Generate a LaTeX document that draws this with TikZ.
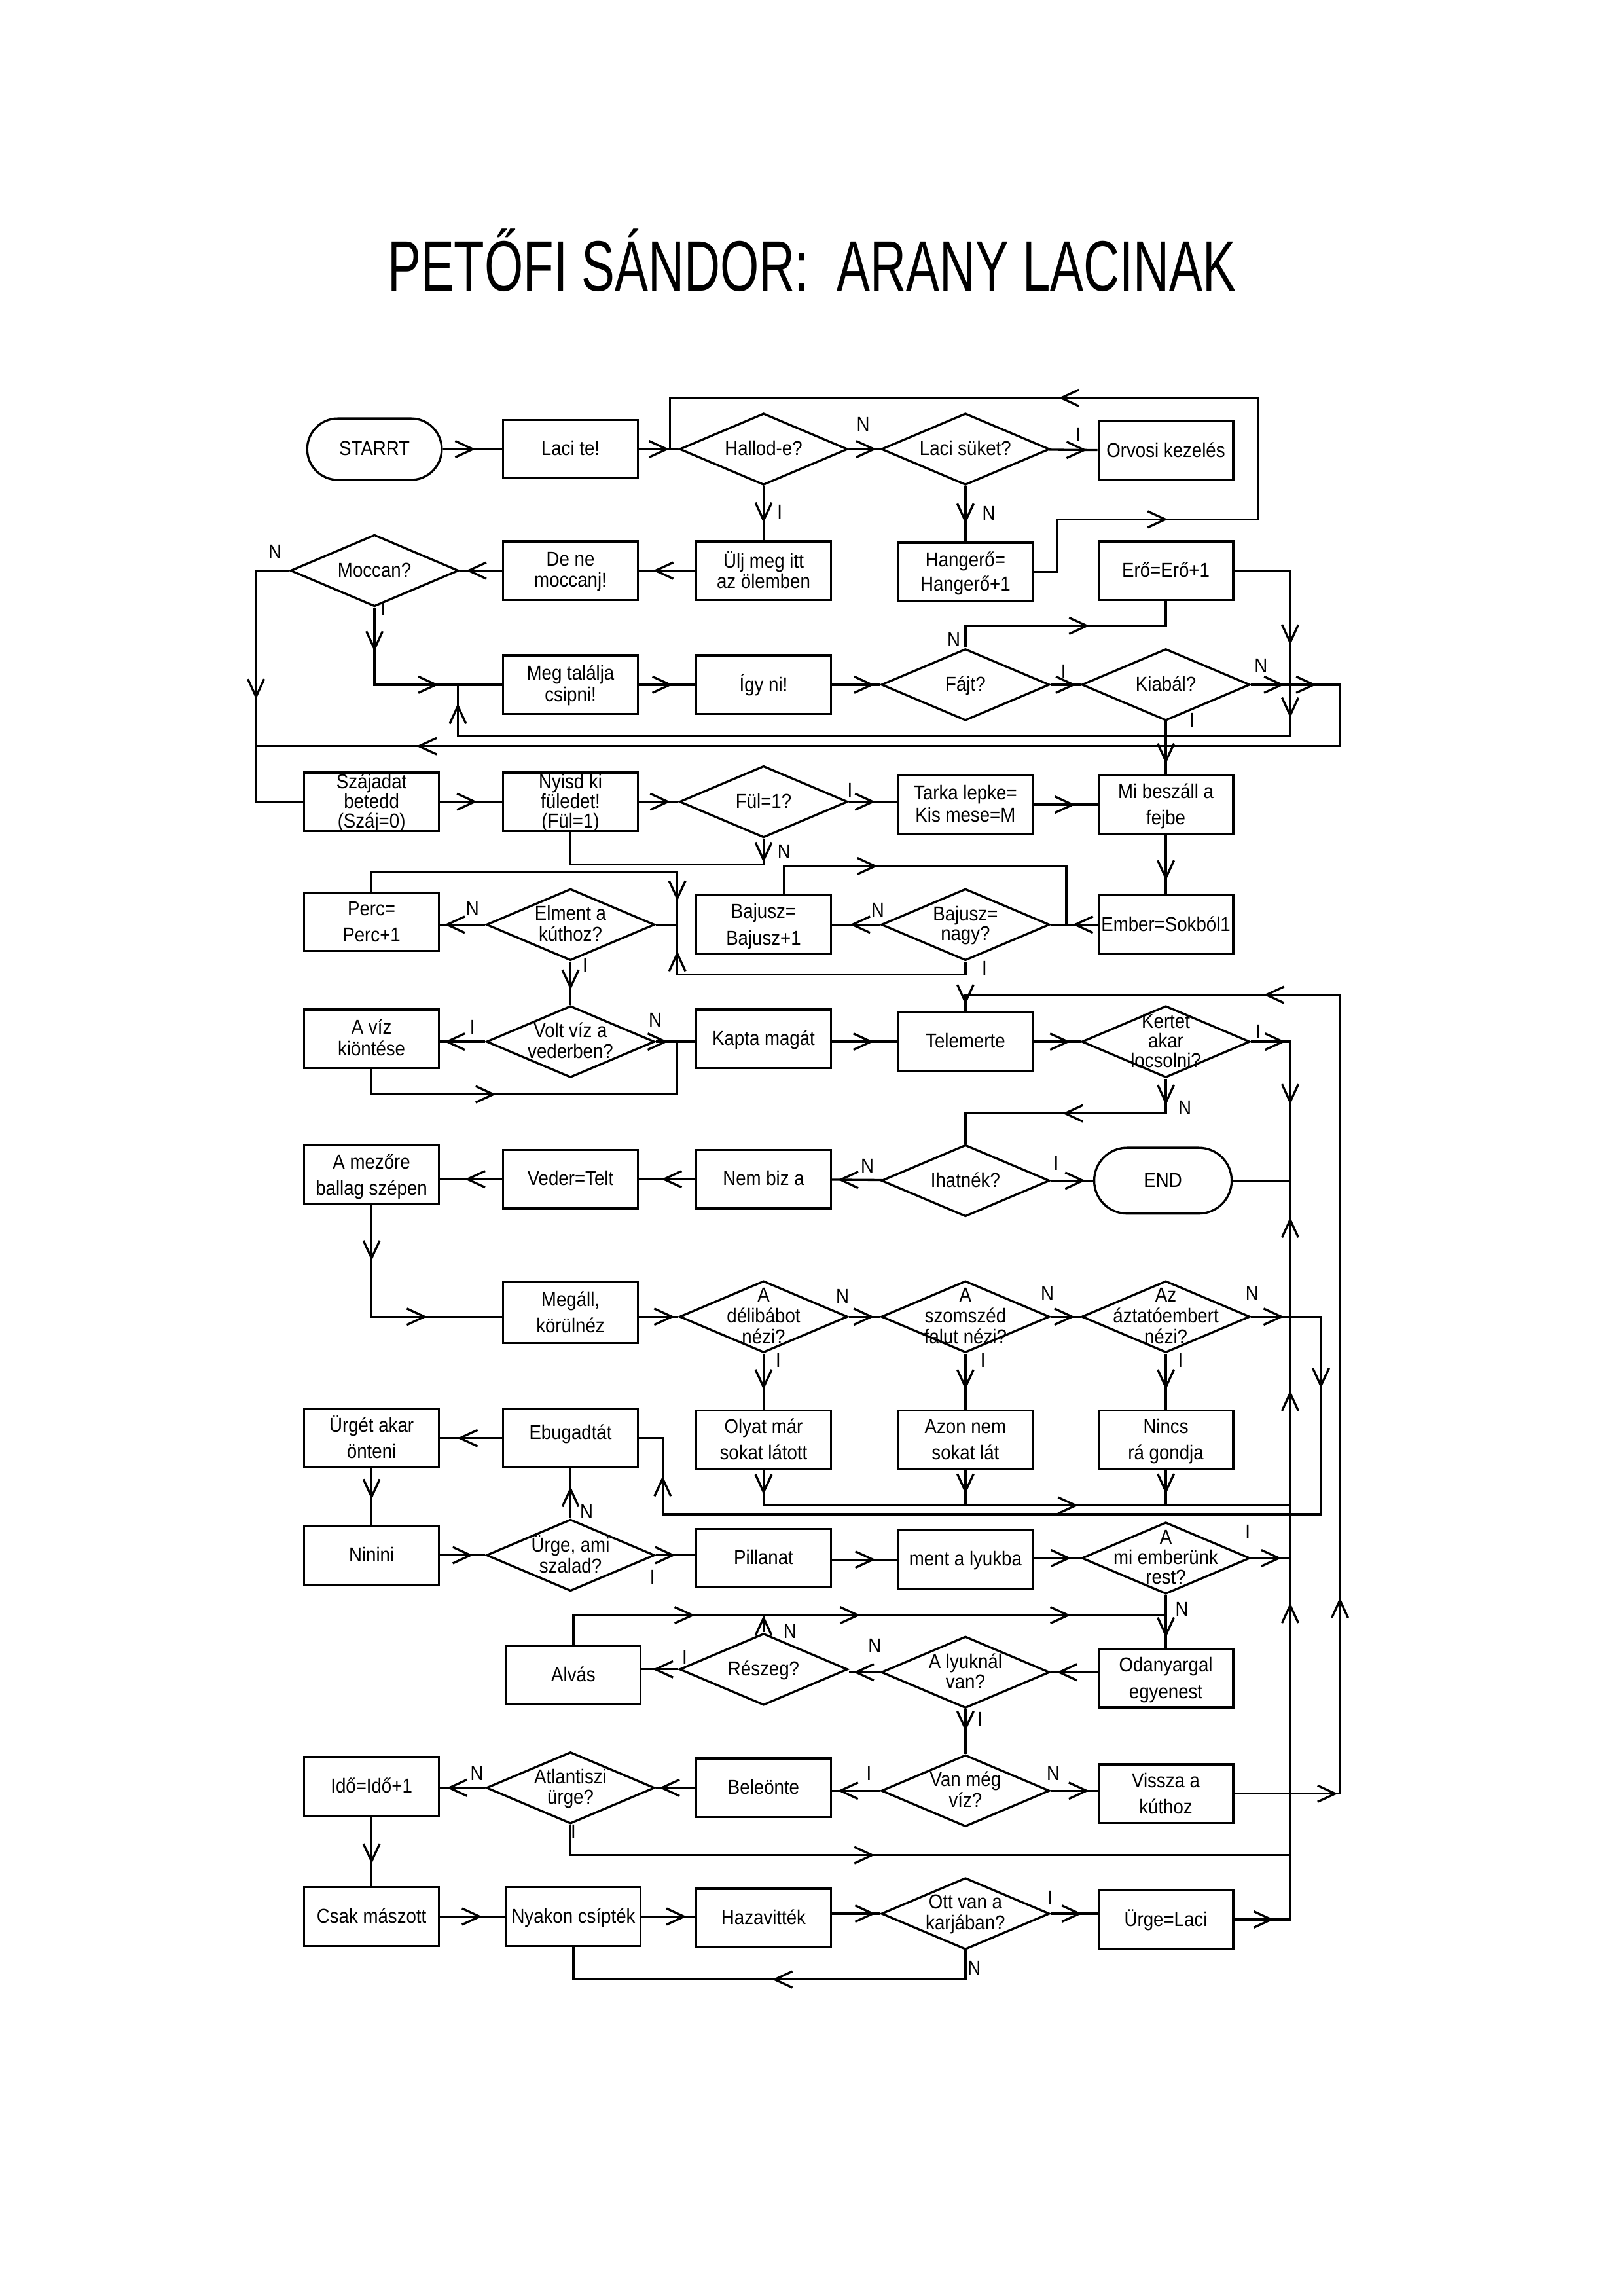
\documentclass[tikz,border=0pt]{standalone}
\usepackage{fontspec}
\setmainfont{Liberation Sans}[FakeStretch=0.9]
\usepackage{graphicx}
\usetikzlibrary{shapes.geometric,shapes.misc,arrows.meta,decorations.markings}
\newlength\px
\setlength\px{0.5383pt}
\newcommand\tx[2][8.5]{\smash{\makebox[0pt]{\raisebox{-2.4pt}{\fontsize{7.4}{#1}\selectfont\begin{tabular}{@{}c@{}}#2\end{tabular}}}}}
\tikzset{
  chev/.tip={Straight Barb[length=6.5pt,width=6pt]},
  box/.style={draw,rectangle,minimum width=92\px,minimum height=40\px,inner sep=0pt,line width=0.8pt},
  dia/.style={draw,diamond,minimum width=115\px,minimum height=49\px,inner sep=0pt,line width=0.8pt},
  term/.style={draw,rounded rectangle,minimum width=92\px,minimum height=42\px,inner sep=0pt,line width=0.8pt},
  lab/.style={inner sep=0pt,font=\fontsize{7.4}{8}\selectfont},
  conn/.style={line width=0.8pt},
  ar/.style={postaction={decorate,decoration={markings,mark=at position #1 with {\arrow{chev}}}}},
}
\begin{document}
\begin{tikzpicture}[x=\px,y=-\px]
\fill[white] (0,0) rectangle (1110,1568);
\useasboundingbox (0,0) rectangle (1110,1568);

% title
\node[inner sep=0pt] (title) at (555,178) {\scalebox{1}[1.29]{\fontsize{20.4}{24}\selectfont PETŐFI SÁNDOR:\ \ ARANY LACINAK}};

% row 1
\node[term] (start) at (256,307) {\tx{STARRT}};
\node[box] (laci) at (390,307) {\tx{Laci te!}};
\node[dia] (hallod) at (522,307) {\tx{Hallod-e?}};
\node[dia] (suket) at (660,307) {\tx{Laci süket?}};
\node[box] (orvosi) at (797,308) {\tx{Orvosi kezelés}};
% row 2
\node[dia] (moccan) at (256,390) {\tx{Moccan?}};
\node[box] (denem) at (390,390) {\tx[7.6]{De ne\\moccanj!}};
\node[box] (ulj) at (522,390) {\tx[7]{Ülj meg itt\\az ölemben}};
\node[box] (hanger) at (660,391) {\tx[9]{Hangerő=\\Hangerő+1}};
\node[box] (ero) at (797,390) {\tx{Erő=Erő+1}};
% row 3
\node[box] (meg) at (390,468) {\tx[8]{Meg találja\\csipni!}};
\node[box] (igy) at (522,468) {\tx{Így ni!}};
\node[dia] (fajt) at (660,468) {\tx{Fájt?}};
\node[dia] (kiabal) at (797,468) {\tx{Kiabál?}};
% row 4
\node[box] (szaj) at (254,548) {\tx[6.3]{Szájadat\\betedd\\(Száj=0)}};
\node[box] (nyisd) at (390,548) {\tx[6.3]{Nyisd ki\\füledet!\\(Fül=1)}};
\node[dia] (ful) at (522,548) {\tx{Fül=1?}};
\node[box] (tarka) at (660,550) {\tx[8]{Tarka lepke=\\Kis mese=M}};
\node[box] (mibesz) at (797,550) {\tx[9.7]{Mi beszáll a\\fejbe}};
% row 5
\node[box] (perc) at (254,630) {\tx[9.7]{Perc=\\Perc+1}};
\node[dia] (elment) at (390,632) {\tx[7.4]{Elment a\\kúthoz?}};
\node[box] (bajusz) at (522,632) {\tx[9.7]{Bajusz=\\Bajusz+1}};
\node[dia] (bnagy) at (660,632) {\tx[7.4]{Bajusz=\\nagy?}};
\node[box] (ember) at (797,632) {\tx{Ember=Sokból1}};
% row 6
\node[box] (viz) at (254,710) {\tx[8]{A víz\\kiöntése}};
\node[dia] (volt) at (390,712) {\tx[7.4]{Volt víz a\\vederben?}};
\node[box] (kapta) at (522,710) {\tx{Kapta magát}};
\node[box] (tele) at (660,712) {\tx{Telemerte}};
\node[dia] (kertet) at (797,712) {\tx[6]{Kertet\\akar\\locsolni?}};
% row 7
\node[box] (mezo) at (254,803) {\tx[9.7]{A mezőre\\ballag szépen}};
\node[box] (veder) at (390,806) {\tx{Veder=Telt}};
\node[box] (nembiz) at (522,806) {\tx{Nem biz a}};
\node[dia] (ihat) at (660,807) {\tx{Ihatnék?}};
\node[term,minimum width=94\px,minimum height=45\px] (endn) at (795,807) {\tx{END}};
% row 8
\node[box,minimum height=42\px] (megall) at (390,897) {\tx[9.7]{Megáll,\\körülnéz}};
\node[dia] (deli) at (522,900) {\tx[7.6]{A\\délibábot\\nézi?}};
\node[dia] (szom) at (660,900) {\tx[7.6]{A\\szomszéd\\falut nézi?}};
\node[dia] (aztat) at (797,900) {\tx[7.6]{Az\\áztatóembert\\nézi?}};
% row 9
\node[box] (urget) at (254,983) {\tx[9.7]{Ürgét akar\\önteni}};
\node[box] (ebug) at (390,983) {\raisebox{4pt}{\tx{Ebugadtát}}};
\node[box] (olyat) at (522,984) {\tx[9.7]{Olyat már\\sokat látott}};
\node[box] (azon) at (660,984) {\tx[9.7]{Azon nem\\sokat lát}};
\node[box] (nincs) at (797,984) {\tx[9.7]{Nincs\\rá gondja}};
% row 10
\node[box] (ninini) at (254,1063) {\tx{Ninini}};
\node[dia] (urge) at (390,1063) {\tx[7.6]{Ürge, ami\\szalad?}};
\node[box] (pill) at (522,1065) {\tx{Pillanat}};
\node[box] (ment) at (660,1066) {\tx{ment a lyukba}};
\node[dia] (ami) at (797,1065) {\tx[7]{A\\mi emberünk\\rest?}};
% row 11
\node[box] (alvas) at (392,1145) {\tx{Alvás}};
\node[dia] (reszeg) at (522,1141) {\tx{Részeg?}};
\node[dia] (lyuk) at (660,1143) {\tx[7.4]{A lyuknál\\van?}};
\node[box] (odany) at (797,1147) {\tx[9.7]{Odanyargal\\egyenest}};
% row 12
\node[box] (ido) at (254,1221) {\tx{Idő=Idő+1}};
\node[dia] (atl) at (390,1222) {\tx[7.4]{Atlantiszi\\ürge?}};
\node[box] (bele) at (522,1222) {\tx{Beleönte}};
\node[dia] (vanmeg) at (660,1224) {\tx[7.4]{Van még\\víz?}};
\node[box] (vissza) at (797,1226) {\tx[9.7]{Vissza a\\kúthoz}};
% row 13
\node[box] (csak) at (254,1310) {\tx{Csak mászott}};
\node[box] (nyakon) at (392,1310) {\tx{Nyakon csípték}};
\node[box] (haza) at (522,1311) {\tx{Hazavitték}};
\node[dia] (ott) at (660,1308) {\tx[7.4]{Ott van a\\karjában?}};
\node[box] (urgel) at (797,1312) {\tx{Ürge=Laci}};

% helper coordinates
\coordinate (j1) at (458,307);
\coordinate (c1) at (723,355);
\coordinate (c2) at (860,272);
\coordinate (cL) at (175,548);
\coordinate (j2) at (313,468);
\coordinate (c4) at (882,503);
\coordinate (c5) at (916,510);
\coordinate (c6) at (522,591);
\coordinate (c7) at (729,592);
\coordinate (j3) at (729,632);
\coordinate (j4) at (463,632);
\coordinate (c8) at (463,666);
\coordinate (c9) at (463,596);
\coordinate (j5) at (463,712);
\coordinate (c10) at (463,748);
\coordinate (jEnd) at (882,807);
\coordinate (c11) at (916,680);
\coordinate (c12) at (797,761);
\coordinate (c13) at (903,1035);
\coordinate (c14) at (453,1035);
\coordinate (jO) at (882,1029);
\coordinate (jM) at (882,1065);
\coordinate (jR) at (797,1104);
\coordinate (jT) at (882,1268);
\coordinate (c15) at (660,1353);

% row 1 connectors
\draw[conn,ar=0.55] (start) -- (laci);
\draw[conn,ar=0.77] (laci) -- (hallod);
\draw[conn,ar=0.88] (hallod) -- (suket);
\draw[conn,ar=0.78] (suket) -- (orvosi);
\draw[conn,ar=0.68] (hallod) -- (ulj);
\draw[conn,ar=0.68] (suket) -- (hanger);
\draw[conn,ar=0.18,ar=0.576] (hanger.east) -| (c1) -- (c1 -| c2) -- (c2) -| (j1);
% row 2
\draw[conn,ar=0.75] (ulj) -- (denem);
\draw[conn,ar=0.85] (denem) -- (moccan);
\draw[conn,ar=0.52] (moccan.west) -| (cL) -- (szaj.west);
\draw[conn,ar=0.215,ar=0.69] (moccan.south) |- (meg.west);
% row 3
\draw[conn,ar=0.6] (meg) -- (igy);
\draw[conn,ar=0.88] (igy) -- (fajt);
\draw[conn,ar=0.85] (fajt) -- (kiabal);
\draw[conn,ar=0.59] (fajt.north) -- ++(0,-15) -| (ero.south);
\draw[conn,ar=0.118,ar=0.184,ar=0.983] (ero.east) -| (c4) -| (j2);
\draw[conn,ar=0.027,ar=0.053,ar=0.87] (kiabal.east) -| (c5) -- (c5 -| cL);
\draw[conn,ar=0.8] (kiabal) -- (mibesz);
% row 4
\draw[conn,ar=0.6] (szaj) -- (nyisd);
\draw[conn,ar=0.8] (nyisd) -- (ful);
\draw[conn,ar=0.55] (ful.east) -- (ful.east -| tarka.west);
\draw[conn,ar=0.65] (tarka.east |- mibesz.west) -- (mibesz.west);
\draw[conn,ar=0.095] (ful.south) -- (c6) -| (nyisd.south);
\draw[conn,ar=0.77] (mibesz) -- (ember);
% row 5
\draw[conn,ar=0.53] (ember) -- (bnagy);
\draw[conn,ar=0.63] (bnagy) -- (bajusz);
\draw[conn,ar=0.33] ([xshift=14\px]bajusz.north) |- (c7) -- (j3);
\draw[conn,ar=0.925] (bnagy.south) |- (c8) -- (j4);
\draw[conn,ar=0.887] (perc.north) |- (c9) -- (j4) -- (elment.east);
\draw[conn,ar=0.9] (elment.west) -- (elment.west -| perc.east);
\draw[conn,ar=0.66] (elment) -- (volt);
% row 6
\draw[conn,ar=0.9] (volt.west) -- (volt.west -| viz.east);
\draw[conn,ar=0.39] (viz.south) |- (c10) -- (j5);
\draw[conn,ar=0.31] (volt.east) -- (volt.east -| kapta.west);
\draw[conn,ar=0.64] (kapta.east |- tele.west) -- (tele.west);
\draw[conn,ar=0.78] (tele) -- (kertet);
\draw[conn,ar=0.146,ar=0.433] (kertet.east) -| (jEnd) -- (endn.east);
\draw[conn,ar=0.08,ar=0.233,ar=0.757,ar=0.995] (vissza.east) -| (c11) -| (tele.north);
% row 7
\draw[conn,ar=0.1,ar=0.52] (kertet.south) -- (c12) -| (ihat.north);
\draw[conn,ar=0.82] (ihat) -- (endn);
\draw[conn,ar=0.88] (ihat) -- (nembiz);
\draw[conn,ar=0.6] (nembiz) -- (veder);
\draw[conn,ar=0.6] (veder.west) -- (veder.west -| mezo.east);
\draw[conn,ar=0.23,ar=0.69] (mezo.south) |- (megall.west |- deli.west);
% row 8
\draw[conn,ar=0.9] (megall.east |- deli.west) -- (deli.west);
\draw[conn,ar=0.8] (deli) -- (szom);
\draw[conn,ar=0.8] (szom) -- (aztat);
\draw[conn,ar=0.032,ar=0.138,ar=0.94] (aztat.east) -| (c13) -- (c14) |- (ebug.east);
\draw[conn,ar=0.65] (deli) -- (olyat);
\draw[conn,ar=0.65] (szom) -- (azon);
\draw[conn,ar=0.65] (aztat) -- (nincs);
% row 9
\draw[conn,ar=0.044,ar=0.623] (olyat.south) |- (jO);
\draw[conn,ar=0.68] (azon.south) -- (azon.south |- jO);
\draw[conn,ar=0.68] (nincs.south) -- (nincs.south |- jO);
\draw[conn,ar=0.72] (ebug) -- (urget);
\draw[conn,ar=0.55] (urget) -- (ninini);
\draw[conn,ar=0.64] (urge) -- (ebug);
% row 10
\draw[conn,ar=0.73] (ninini) -- (urge);
\draw[conn,ar=0.5] (urge.east) -- (urge.east -| pill.west);
\draw[conn,ar=0.67] (pill.east |- ment.west) -- (ment.west);
\draw[conn,ar=0.8] (ment.east |- ami.west) -- (ami.west);
\draw[conn,ar=0.78] (ami.east) -- (jM);
\draw[conn,ar=0.81] (ami) -- (odany);
% row 11
\draw[conn,ar=0.87] (lyuk.east -| odany.west) -- (lyuk.east);
\draw[conn,ar=0.85] (lyuk.west) -- (lyuk.west -| reszeg.east);
\draw[conn,ar=0.7] (reszeg.west) -- (reszeg.west -| alvas.east);
\draw[conn,ar=0.243,ar=0.509,ar=0.847] (alvas.north) |- (jR);
\draw[conn,ar=0.99] (reszeg.north) -- (reszeg.north |- jR);
\draw[conn,ar=0.5] (lyuk) -- (vanmeg);
% row 12
\draw[conn,ar=0.88] (vanmeg.west) -- (vanmeg.west -| bele.east);
\draw[conn,ar=0.91] (bele.west |- atl.east) -- (atl.east);
\draw[conn,ar=0.85] (atl.west) -- (atl.west -| ido.east);
\draw[conn,ar=0.82] (vanmeg.east) -- (vanmeg.east -| vissza.west);
\draw[conn,ar=0.446] (atl.south) |- (jT);
\draw[conn,ar=0.68] (ido) -- (csak);
% row 13
\draw[conn,ar=0.65] (csak) -- (nyakon);
\draw[conn,ar=0.84] (nyakon.east) -- (nyakon.east -| haza.west);
\draw[conn,ar=0.9] (haza.east |- ott.west) -- (ott.west);
\draw[conn,ar=0.67] (ott.east) -- (ott.east -| urgel.west);
\draw[conn,ar=0.49] (ott.south) -- (c15) -| (nyakon.south);
\draw[conn,ar=0.05,ar=0.469,ar=0.736,ar=0.954] (urgel.east) -| (jEnd);

% Y/N labels
\node[lab] (l1) at (590,290) {N};
\node[lab] (l2) at (737,297) {I};
\node[lab] (l3) at (533,350) {I};
\node[lab] (l4) at (676,351) {N};
\node[lab] (l5) at (188,377) {N};
\node[lab] (l6) at (262,416) {I};
\node[lab] (l7) at (652,437) {N};
\node[lab] (l8) at (727,459) {I};
\node[lab] (l9) at (862,455) {N};
\node[lab] (l10) at (815,492) {I};
\node[lab] (l11) at (581,540) {I};
\node[lab] (l12) at (536,582) {N};
\node[lab] (l13) at (323,621) {N};
\node[lab] (l14) at (600,622) {N};
\node[lab] (l15) at (400,660) {I};
\node[lab] (l16) at (673,662) {I};
\node[lab] (l17) at (323,702) {I};
\node[lab] (l18) at (448,697) {N};
\node[lab] (l19) at (860,705) {I};
\node[lab] (l20) at (810,757) {N};
\node[lab] (l21) at (593,797) {N};
\node[lab] (l22) at (722,795) {I};
\node[lab] (l23) at (576,886) {N};
\node[lab] (l24) at (716,884) {N};
\node[lab] (l25) at (856,884) {N};
\node[lab] (l26) at (532,930) {I};
\node[lab] (l27) at (672,930) {I};
\node[lab] (l28) at (807,930) {I};
\node[lab] (l29) at (401,1033) {N};
\node[lab] (l30) at (446,1078) {I};
\node[lab] (l31) at (853,1047) {I};
\node[lab] (l32) at (808,1100) {N};
\node[lab] (l33) at (540,1115) {N};
\node[lab] (l34) at (598,1125) {N};
\node[lab] (l35) at (468,1133) {I};
\node[lab] (l36) at (670,1175) {I};
\node[lab] (l37) at (594,1212) {I};
\node[lab] (l38) at (720,1212) {N};
\node[lab] (l39) at (326,1212) {N};
\node[lab] (l40) at (392,1252) {I};
\node[lab] (l41) at (718,1297) {I};
\node[lab] (l42) at (666,1345) {N};
\end{tikzpicture}
\end{document}
